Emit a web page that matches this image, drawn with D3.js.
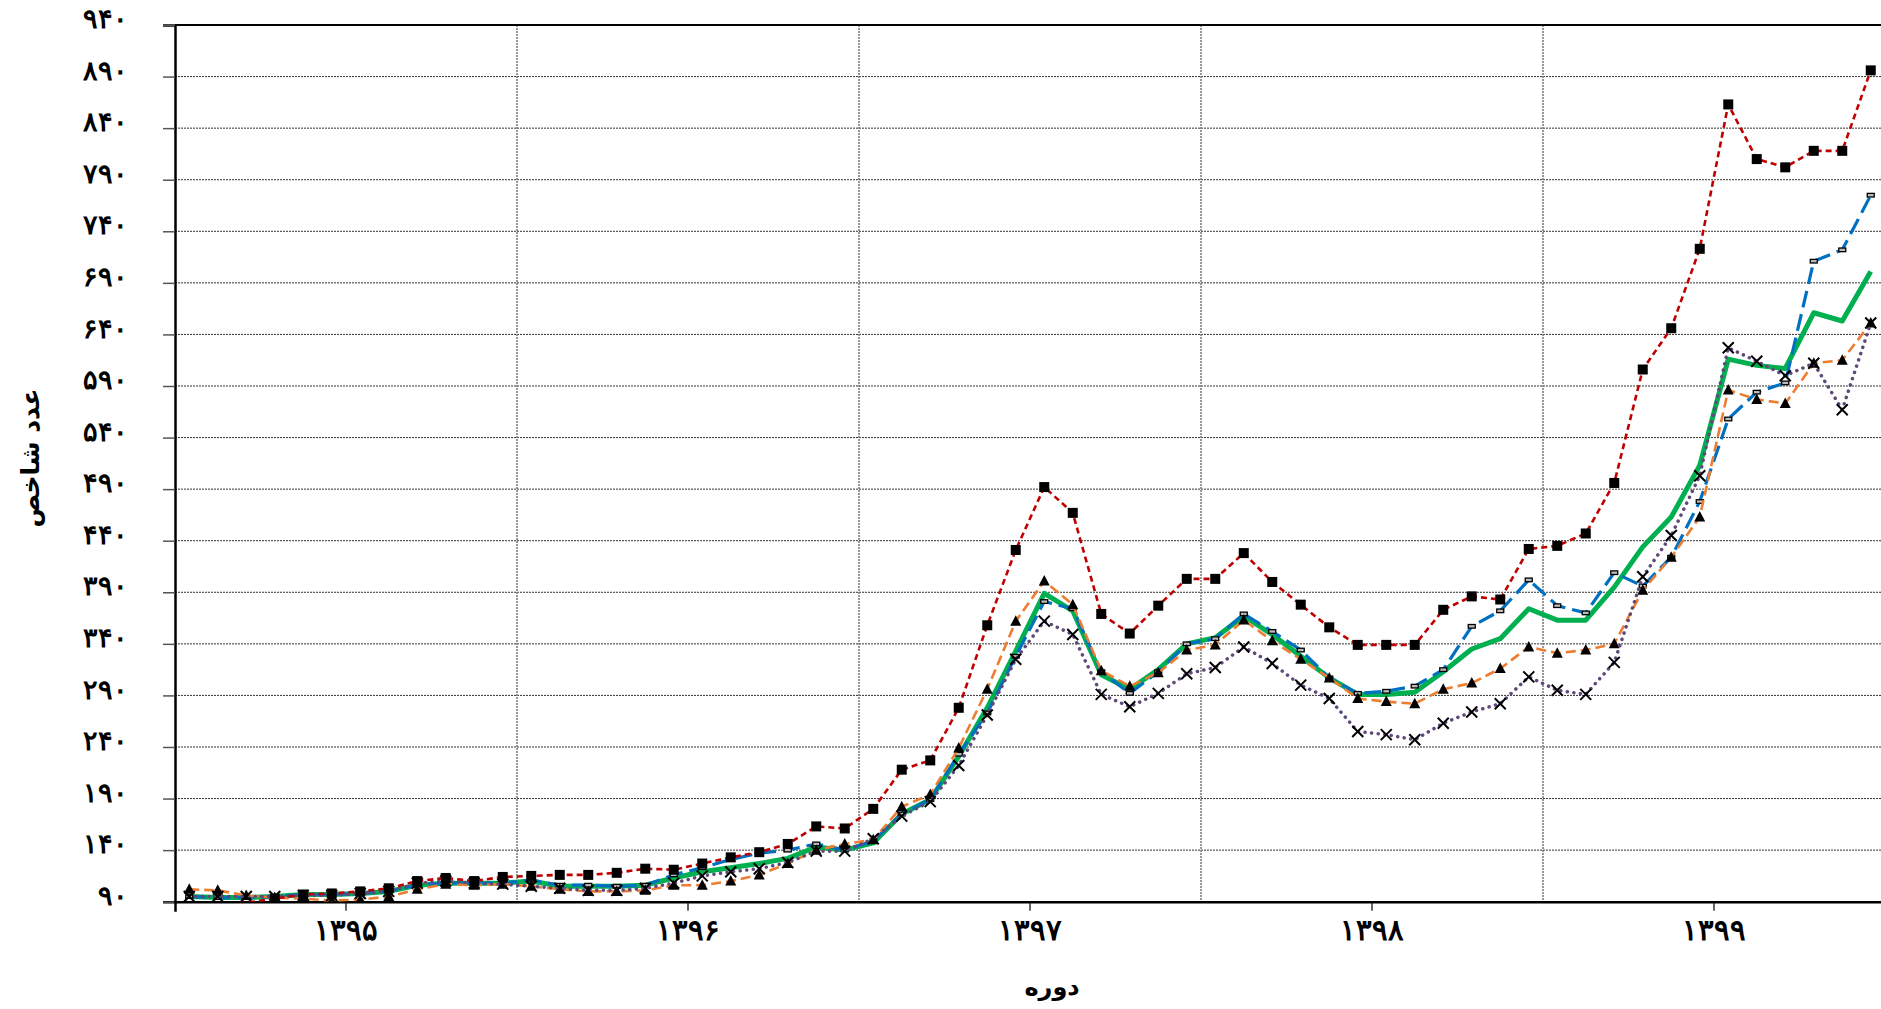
<!DOCTYPE html>
<html>
<head>
<meta charset="utf-8">
<script src="https://cdn.jsdelivr.net/npm/d3@7"></script>
<style>
  body { margin: 0; background: #fff; }
  svg { display: block; font-family: "DejaVu Sans", sans-serif; }
</style>
</head>
<body>
<svg id="chart" width="1881" height="1009"></svg>
<script>
// categories: five years, monthly points
const years = ["1395", "1396", "1397", "1398", "1399"];
const monthsPerYear = 12;
const yTickValues = [90, 140, 190, 240, 290, 340, 390, 440, 490, 540, 590, 640, 690, 740, 790, 840, 890, 940];

// series values (60 months each)
const seriesRed = [
  85, 87, 89, 93, 97, 98, 100, 103, 110, 113, 110, 114,
  115, 116, 116, 118, 122, 121, 127, 133, 138, 146, 163, 161,
  180, 218, 227, 278, 358, 431, 492, 467, 369, 350, 377, 403,
  403, 428, 400, 378, 356, 339, 339, 339, 373, 386, 383, 432,
  435, 447, 496, 606, 646, 723, 863, 810, 802, 818, 818, 896
];
const seriesBlue = [
  95, 94, 94, 95, 97, 97, 98, 100, 106, 108, 108, 108,
  111, 106, 106, 105, 106, 116, 123, 131, 137, 140, 146, 140,
  149, 175, 189, 233, 273, 328, 381, 374, 313, 292, 313, 340,
  345, 369, 352, 334, 307, 292, 294, 299, 315, 357, 372, 402,
  377, 370, 409, 396, 424, 478, 558, 584, 593, 711, 722, 775
];
const seriesGreen = [
  95, 94, 94, 95, 97, 97, 98, 100, 106, 108, 108, 108,
  110, 105, 105, 105, 106, 113, 119, 123, 127, 132, 143, 140,
  147, 175, 189, 231, 278, 333, 389, 372, 310, 296, 315, 340,
  346, 367, 349, 328, 307, 291, 291, 293, 313, 335, 345, 374,
  363, 363, 395, 434, 463, 513, 616, 610, 607, 661, 653, 701
];
const seriesOrange = [
  102, 101, 96, 94, 93, 91, 92, 95, 102, 107, 106, 107,
  105, 102, 100, 100, 101, 106, 106, 110, 116, 127, 140, 146,
  150, 182, 194, 239, 296, 362, 401, 378, 314, 299, 312, 334,
  339, 363, 343, 325, 307, 287, 284, 282, 296, 302, 316, 337,
  331, 334, 340, 392, 424, 463, 586, 577, 573, 612, 615, 651
];
const seriesPurple = [
  95, 95, 95, 95, 96, 96, 98, 100, 108, 110, 108, 107,
  105, 103, 101, 101, 103, 108, 115, 119, 122, 128, 139, 139,
  151, 173, 187, 222, 271, 325, 362, 349, 291, 279, 292, 311,
  317, 337, 321, 300, 287, 255, 252, 247, 263, 274, 282, 308,
  295, 291, 322, 405, 445, 503, 627, 614, 600, 612, 567, 651
];

const yTitle = "عدد شاخص";
const xTitle = "دوره";

const faDigits = "۰۱۲۳۴۵۶۷۸۹";
function toFa(v) { return String(v).replace(/\d/g, d => faDigits[+d]); }

let svg = d3.select("#chart"),
    margin = {top: 25, left: 175},
    width = 1710,
    height = 876.7,
    g = svg.append("g").attr("transform", "translate(" + margin.left + "," + margin.top + ")");

const periods = d3.range(years.length * monthsPerYear);

let x = d3.scaleBand().domain(periods).range([0, width]).padding(0);
let xYear = d3.scaleBand().domain(years).range([0, width]).padding(0);
let y = d3.scaleLinear().domain([90, 940]).range([height, 0]);

svg.append("defs").append("clipPath").attr("id", "plot-clip")
  .append("rect").attr("x", 0).attr("y", 0).attr("width", width).attr("height", height);

// horizontal gridlines
g.append("g").selectAll("line").data(yTickValues.slice(1, -1)).enter()
  .append("line")
  .attr("x1", 0).attr("x2", width)
  .attr("y1", d => y(d)).attr("y2", d => y(d))
  .attr("stroke", "#333").attr("stroke-width", 1).attr("stroke-dasharray", "2,1");

// vertical gridlines at year boundaries
g.append("g").selectAll("line").data(years.slice(1)).enter()
  .append("line")
  .attr("x1", d => xYear(d)).attr("x2", d => xYear(d))
  .attr("y1", 0).attr("y2", height)
  .attr("stroke", "#777").attr("stroke-width", 1.5).attr("stroke-dasharray", "2,1");

// top border
g.append("line").attr("x1", 0).attr("x2", width).attr("y1", 0).attr("y2", 0)
  .attr("stroke", "#000").attr("stroke-width", 2);

// axes
let yAxis = g.append("g").attr("class", "axis-left")
  .call(d3.axisLeft(y).tickValues(yTickValues).tickFormat(toFa).tickSize(12).tickPadding(35));
yAxis.select(".domain").attr("stroke", "#000").attr("stroke-width", 2.5);
yAxis.selectAll(".tick line").attr("stroke", "#555").attr("stroke-width", 1.5);
yAxis.selectAll("text").attr("font-size", "27px").attr("font-weight", "bold").attr("fill", "#000")
  .attr("text-anchor", "end").attr("dy", "0.1em");

let xAxis = g.append("g").attr("class", "axis-bottom")
  .attr("transform", "translate(0," + height + ")")
  .call(d3.axisBottom(xYear).tickFormat(toFa).tickSize(9).tickPadding(9).tickSizeOuter(10));
xAxis.select(".domain").attr("stroke", "#000").attr("stroke-width", 2.5);
xAxis.selectAll(".tick line").attr("stroke", "#000").attr("stroke-width", 1.2);
xAxis.selectAll("text").attr("font-size", "29px").attr("font-weight", "bold").attr("fill", "#000");

// series
const seriesList = [
  {values: seriesGreen, color: "#00B050", width: 5, dash: null, marker: null},
  {values: seriesBlue, color: "#0070C0", width: 3.2, dash: "17,7", marker: "dash"},
  {values: seriesOrange, color: "#ED7D31", width: 2.6, dash: "10,5", marker: "triangle"},
  {values: seriesPurple, color: "#5F497A", width: 3.5, dash: "0.1,6.5", marker: "cross"},
  {values: seriesRed, color: "#C00000", width: 2.6, dash: "6,4", marker: "square"}
];

let line = d3.line()
  .x((d, i) => x(i) + x.bandwidth() / 2)
  .y(d => y(d));

let plot = g.append("g").attr("clip-path", "url(#plot-clip)");

seriesList.forEach(s => {
  plot.append("path")
    .datum(s.values)
    .attr("fill", "none")
    .attr("stroke", s.color)
    .attr("stroke-width", s.width)
    .attr("stroke-linecap", s.marker === "cross" ? "round" : "butt")
    .attr("stroke-linejoin", "round")
    .attr("stroke-dasharray", s.dash)
    .attr("d", line);

  if (!s.marker) return;
  let pts = s.values.map((v, i) => ({v, i})).filter(p => p.v >= 90);
  let mk = plot.append("g").selectAll("g").data(pts).enter().append("g")
    .attr("transform", p => "translate(" + (x(p.i) + x.bandwidth() / 2) + "," + y(p.v) + ")");
  if (s.marker === "square") {
    mk.append("rect").attr("x", -5).attr("y", -5).attr("width", 10).attr("height", 10).attr("fill", "#000");
  } else if (s.marker === "triangle") {
    mk.append("path").attr("d", "M0,-6L5.5,4.5L-5.5,4.5Z").attr("fill", "#000");
  } else if (s.marker === "dash") {
    mk.append("rect").attr("x", -3.5).attr("y", -1.8).attr("width", 7).attr("height", 3.6)
      .attr("fill", "#bbb").attr("stroke", "#000").attr("stroke-width", 1.3);
  } else if (s.marker === "cross") {
    mk.append("path").attr("d", "M-5.5,-5.5L5.5,5.5M5.5,-5.5L-5.5,5.5").attr("stroke", "#000").attr("stroke-width", 2).attr("fill", "none");
  }
});

// axis titles
svg.append("text")
  .attr("transform", "translate(32,458) rotate(-90)")
  .attr("text-anchor", "middle").attr("dominant-baseline", "middle")
  .attr("font-size", "25px").attr("font-weight", "bold")
  .text(yTitle);

svg.append("text")
  .attr("x", 1052).attr("y", 988)
  .attr("text-anchor", "middle").attr("dominant-baseline", "middle")
  .attr("font-size", "24px").attr("font-weight", "bold")
  .text(xTitle);
</script>
</body>
</html>
